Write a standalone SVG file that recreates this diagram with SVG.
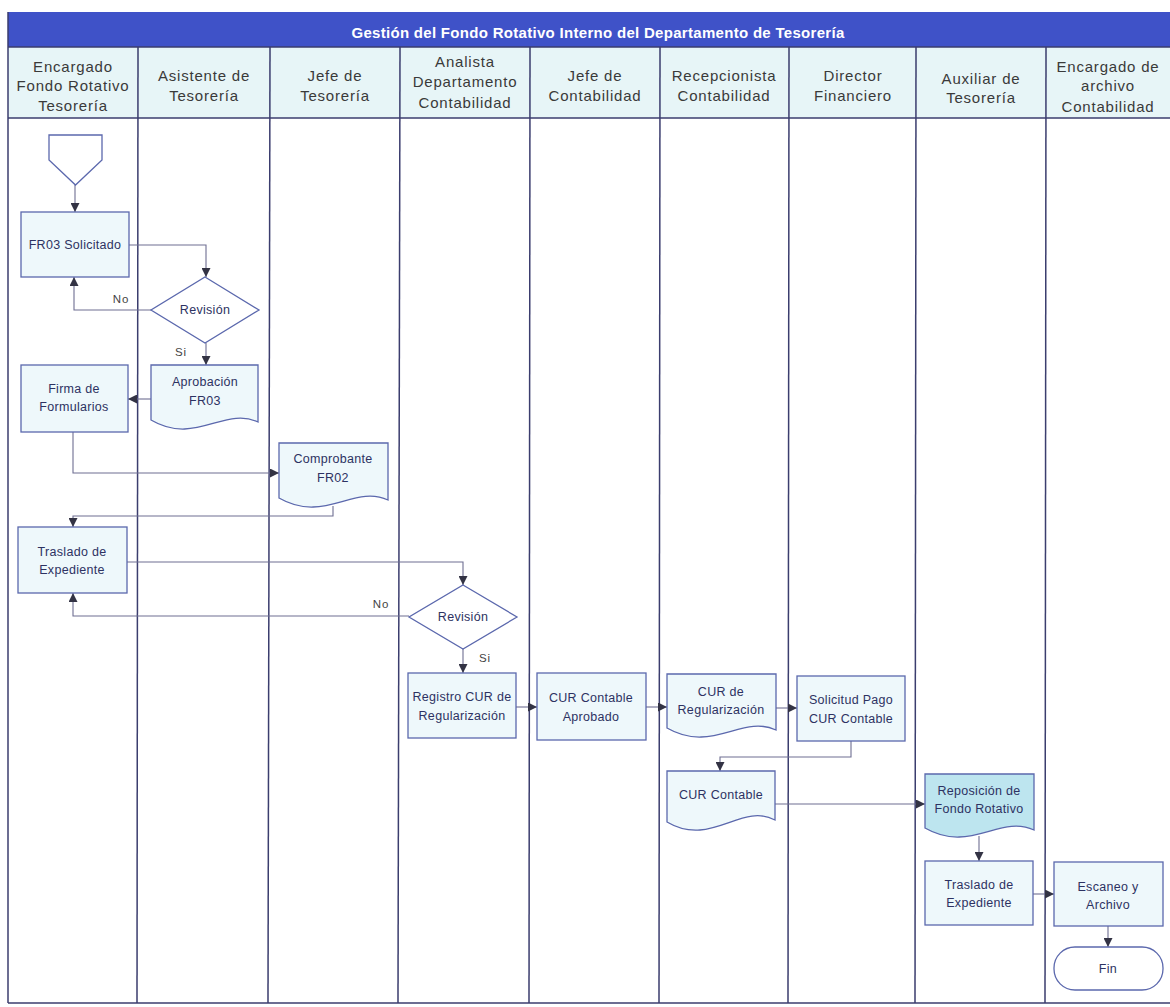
<svg xmlns="http://www.w3.org/2000/svg" width="1170" height="1007" viewBox="0 0 1170 1007">
<style>
.lane{stroke:#3b3d6e;stroke-width:1.5;fill:none}
.hdrcell{fill:#e7f5f7}
.hdr{font-family:"Liberation Sans",Arial,sans-serif;font-size:15px;fill:#3a3a3a;text-anchor:middle;letter-spacing:0.8px}
.title{font-family:"Liberation Sans",Arial,sans-serif;font-size:15px;font-weight:bold;fill:#ffffff;text-anchor:middle;letter-spacing:0.3px}
.node{fill:#eef8fb;stroke:#5b68ad;stroke-width:1.3}
.lbl{font-family:"Liberation Sans",Arial,sans-serif;font-size:12.5px;fill:#2d3262;text-anchor:middle;letter-spacing:0.3px}
.edge{fill:none;stroke:#6e6e92;stroke-width:1.1}
.elbl{font-family:"Liberation Sans",Arial,sans-serif;font-size:11.5px;fill:#444;text-anchor:middle;letter-spacing:1px}
</style>
<defs>
<marker id="arr" viewBox="0 0 10 10" refX="10" refY="5" markerWidth="9" markerHeight="9" markerUnits="userSpaceOnUse" orient="auto">
<path d="M0,0 L10,5 L0,10 z" fill="#333344"/>
</marker>
</defs>
<rect width="1170" height="1007" fill="#ffffff"/>

<g id="frame">
<rect x="8" y="12" width="1162" height="35" fill="#3f52c8"/>
<text class="title" x="598" y="38">Gestión del Fondo Rotativo Interno del Departamento de Tesorería</text>
<rect class="hdrcell" x="8" y="47" width="1162" height="71"/>
<line class="lane" x1="8" y1="47" x2="1170" y2="47"/>
<line class="lane" x1="8" y1="118" x2="1170" y2="118"/>
<line class="lane" x1="8" y1="1003" x2="1170" y2="1003"/>
<line class="lane" x1="8" y1="12" x2="8" y2="1003"/>
<line class="lane" x1="138" y1="47" x2="137" y2="1003"/>
<line class="lane" x1="270" y1="47" x2="268" y2="1003"/>
<line class="lane" x1="400" y1="47" x2="398" y2="1003"/>
<line class="lane" x1="530" y1="47" x2="529" y2="1003"/>
<line class="lane" x1="660" y1="47" x2="659" y2="1003"/>
<line class="lane" x1="789" y1="47" x2="788" y2="1003"/>
<line class="lane" x1="916" y1="47" x2="915" y2="1003"/>
<line class="lane" x1="1046" y1="47" x2="1045" y2="1003"/>
</g>

<g id="lane-headers">
<text class="hdr" x="73" y="72">Encargado</text>
<text class="hdr" x="73" y="91">Fondo Rotativo</text>
<text class="hdr" x="73" y="111">Tesorería</text>
<text class="hdr" x="204" y="81">Asistente de</text>
<text class="hdr" x="204" y="101">Tesorería</text>
<text class="hdr" x="335" y="81">Jefe de</text>
<text class="hdr" x="335" y="101">Tesorería</text>
<text class="hdr" x="465" y="67">Analista</text>
<text class="hdr" x="465" y="87">Departamento</text>
<text class="hdr" x="465" y="108">Contabilidad</text>
<text class="hdr" x="595" y="81">Jefe de</text>
<text class="hdr" x="595" y="101">Contabilidad</text>
<text class="hdr" x="724" y="81">Recepcionista</text>
<text class="hdr" x="724" y="101">Contabilidad</text>
<text class="hdr" x="853" y="81">Director</text>
<text class="hdr" x="853" y="101">Financiero</text>
<text class="hdr" x="981" y="84">Auxiliar de</text>
<text class="hdr" x="981" y="103">Tesorería</text>
<text class="hdr" x="1108" y="72">Encargado de</text>
<text class="hdr" x="1108" y="91">archivo</text>
<text class="hdr" x="1108" y="112">Contabilidad</text>
</g>

<g id="connectors">
<path class="edge" d="M75,185 V212" marker-end="url(#arr)"/>
<path class="edge" d="M129,245 H206 V277" marker-end="url(#arr)"/>
<path class="edge" d="M151,310 H74 V277" marker-end="url(#arr)"/>
<text class="elbl" x="121" y="303">No</text>
<path class="edge" d="M206,343 V365" marker-end="url(#arr)"/>
<text class="elbl" x="181" y="356">Si</text>
<path class="edge" d="M151,399 H128" marker-end="url(#arr)"/>
<path class="edge" d="M73,432 V473 H279" marker-end="url(#arr)"/>
<path class="edge" d="M333,506 V516 H73 V527" marker-end="url(#arr)"/>
<path class="edge" d="M127,562 H463 V585" marker-end="url(#arr)"/>
<path class="edge" d="M409,616 H73 V593" marker-end="url(#arr)"/>
<text class="elbl" x="381" y="608">No</text>
<path class="edge" d="M463,649 V673" marker-end="url(#arr)"/>
<text class="elbl" x="485" y="662">Si</text>
<path class="edge" d="M516,707 H537" marker-end="url(#arr)"/>
<path class="edge" d="M646,707 H667" marker-end="url(#arr)"/>
<path class="edge" d="M776,708 H797" marker-end="url(#arr)"/>
<path class="edge" d="M851,741 V757 H720 V771" marker-end="url(#arr)"/>
<path class="edge" d="M775,804 H925" marker-end="url(#arr)"/>
<path class="edge" d="M979,836 V861" marker-end="url(#arr)"/>
<path class="edge" d="M1033,894 H1054" marker-end="url(#arr)"/>
<path class="edge" d="M1108,926 V947" marker-end="url(#arr)"/>
</g>

<g id="start">
<path class="node" d="M49,135 H102 V160 L75.5,185 L49,160 Z" style="fill:#ffffff"/>
</g>

<g id="fr03-solicitado">
<rect class="node" x="21" y="212" width="108" height="65"/>
<text class="lbl" x="75" y="249">FR03 Solicitado</text>
</g>

<g id="revision-1">
<path class="node" d="M205,277 L259,310 L205,343 L151,310 Z" style="fill:#ffffff"/>
<text class="lbl" x="205" y="314">Revisión</text>
</g>

<g id="aprobacion-fr03">
<path class="node" d="M151,365 H258 V422 C225,406 195,446 151,420 Z"/>
<text class="lbl" x="205" y="386">Aprobación</text>
<text class="lbl" x="205" y="405">FR03</text>
</g>

<g id="firma-formularios">
<rect class="node" x="21" y="365" width="107" height="67"/>
<text class="lbl" x="74" y="393">Firma de</text>
<text class="lbl" x="74" y="411">Formularios</text>
</g>

<g id="comprobante-fr02">
<path class="node" d="M279,443 H388 V500 C354,484 324,524 279,498 Z"/>
<text class="lbl" x="333" y="463">Comprobante</text>
<text class="lbl" x="333" y="482">FR02</text>
</g>

<g id="traslado-1">
<rect class="node" x="18" y="527" width="109" height="66"/>
<text class="lbl" x="72" y="556">Traslado de</text>
<text class="lbl" x="72" y="574">Expediente</text>
</g>

<g id="revision-2">
<path class="node" d="M463,585 L517,617 L463,649 L409,617 Z" style="fill:#ffffff"/>
<text class="lbl" x="463" y="621">Revisión</text>
</g>

<g id="registro-cur">
<rect class="node" x="408" y="673" width="108" height="65"/>
<text class="lbl" x="462" y="701">Registro CUR de</text>
<text class="lbl" x="462" y="720">Regularización</text>
</g>

<g id="cur-contable-aprobado">
<rect class="node" x="537" y="673" width="109" height="67"/>
<text class="lbl" x="591" y="702">CUR Contable</text>
<text class="lbl" x="591" y="721">Aprobado</text>
</g>

<g id="cur-regularizacion">
<path class="node" d="M667,674 H776 V730 C742,714 712,754 667,728 Z"/>
<text class="lbl" x="721" y="696">CUR de</text>
<text class="lbl" x="721" y="714">Regularización</text>
</g>

<g id="solicitud-pago">
<rect class="node" x="797" y="676" width="108" height="65"/>
<text class="lbl" x="851" y="704">Solicitud Pago</text>
<text class="lbl" x="851" y="723">CUR Contable</text>
</g>

<g id="cur-contable">
<path class="node" d="M667,771 H775 V820 C741,802 711,848 667,822 Z"/>
<text class="lbl" x="721" y="799">CUR Contable</text>
</g>

<g id="reposicion-fondo">
<path class="node" d="M925,774 H1034 V830 C1000,814 970,854 925,828 Z" style="fill:#bde5ef"/>
<text class="lbl" x="979" y="795">Reposición de</text>
<text class="lbl" x="979" y="813">Fondo Rotativo</text>
</g>

<g id="traslado-2">
<rect class="node" x="925" y="861" width="108" height="64"/>
<text class="lbl" x="979" y="889">Traslado de</text>
<text class="lbl" x="979" y="907">Expediente</text>
</g>

<g id="escaneo-archivo">
<rect class="node" x="1054" y="862" width="109" height="64"/>
<text class="lbl" x="1108" y="891">Escaneo y</text>
<text class="lbl" x="1108" y="909">Archivo</text>
</g>

<g id="fin">
<rect class="node" x="1054" y="947" width="109" height="43" rx="21" ry="21" style="fill:#ffffff"/>
<text class="lbl" x="1108" y="973">Fin</text>
</g>
</svg>
